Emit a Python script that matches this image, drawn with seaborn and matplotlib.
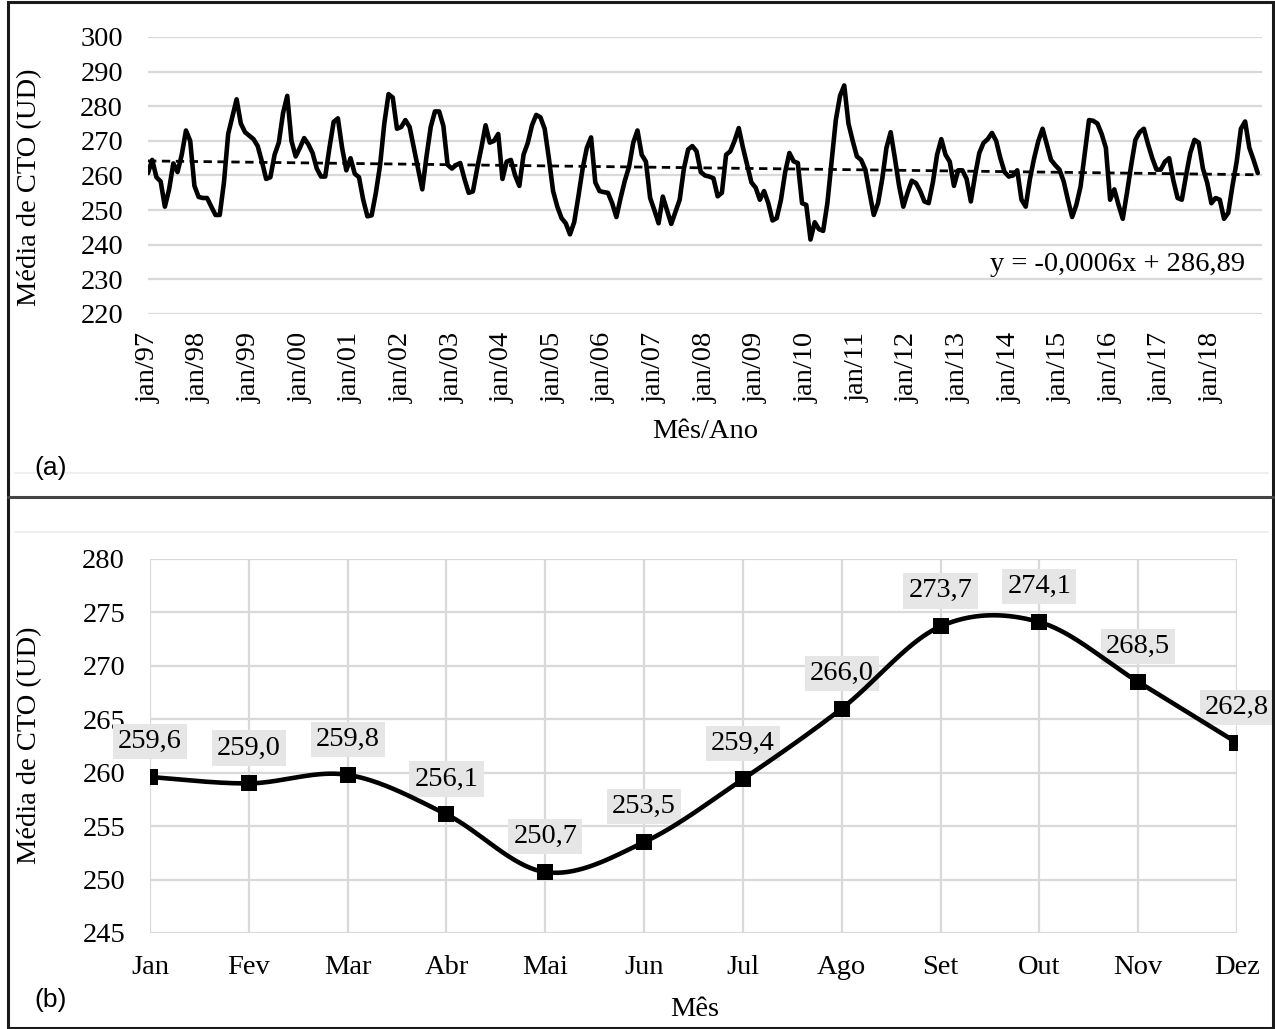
import numpy as np
import pandas as pd
import matplotlib
matplotlib.use("Agg")
import matplotlib.pyplot as plt
import seaborn as sns
from matplotlib.patches import Rectangle
from matplotlib.lines import Line2D

# ---------------- data ----------------
# (a) monthly mean CTO, jan/1997 .. dez/2018
cto_monthly = [
    260.7, 264.5, 259.5, 258.3, 251.0, 256.0, 263.5, 261.0, 266.0, 273.0, 270.0, 257.0,  # 1997
    253.8, 253.5, 253.5, 251.0, 248.6, 248.6, 258.0, 272.0, 277.0, 282.0, 275.0, 272.5,  # 1998
    271.5, 270.5, 268.5, 264.0, 259.0, 259.5, 266.0, 269.5, 278.0, 283.0, 270.0, 265.5,  # 1999
    268.0, 270.8, 269.0, 266.5, 262.0, 259.7, 259.7, 268.0, 275.5, 276.5, 268.0, 261.5,  # 2000
    265.0, 260.5, 259.5, 253.0, 248.2, 248.5, 255.0, 263.0, 275.0, 283.5, 282.5, 273.5,  # 2001
    274.0, 276.0, 274.0, 268.0, 262.0, 256.0, 265.5, 274.0, 278.5, 278.5, 274.3, 263.1,  # 2002
    262.0, 263.0, 263.6, 259.0, 255.0, 255.4, 262.0, 268.0, 274.5, 269.5, 270.0, 272.0,  # 2003
    259.0, 264.0, 264.5, 260.0, 257.0, 266.0, 269.4, 274.5, 277.5, 276.8, 273.5, 265.0,  # 2004
    255.5, 251.0, 247.7, 246.2, 243.0, 246.5, 254.0, 262.0, 268.0, 271.0, 258.0, 255.5,  # 2005
    255.2, 255.0, 252.0, 248.0, 253.5, 258.5, 262.5, 269.5, 273.0, 266.0, 264.0, 253.5,  # 2006
    250.0, 246.2, 253.9, 250.0, 246.0, 249.5, 253.0, 262.0, 267.5, 268.5, 267.0, 261.0,  # 2007
    260.0, 259.7, 259.2, 254.0, 255.0, 266.0, 267.0, 270.0, 273.7, 268.0, 263.0, 258.0,  # 2008
    256.5, 253.0, 255.5, 252.0, 247.0, 247.7, 253.0, 261.0, 266.5, 264.1, 263.6, 252.0,  # 2009
    251.5, 241.5, 246.5, 244.5, 244.0, 252.0, 264.0, 276.0, 283.0, 286.0, 275.0, 270.0,  # 2010
    265.5, 264.5, 261.7, 255.0, 248.6, 252.0, 259.0, 268.0, 272.5, 265.0, 257.0, 251.0,  # 2011
    255.0, 258.5, 257.8, 255.5, 252.5, 252.0, 258.0, 266.0, 270.5, 266.0, 264.0, 257.0,  # 2012
    261.5, 261.5, 259.0, 252.5, 260.0, 266.5, 269.4, 270.5, 272.3, 270.0, 265.0, 261.0,  # 2013
    259.7, 260.0, 261.5, 253.0, 251.0, 259.0, 265.0, 270.0, 273.5, 269.0, 264.5, 263.0,  # 2014
    261.7, 258.3, 253.0, 248.0, 251.5, 256.8, 266.5, 276.0, 275.8, 275.0, 272.0, 268.0,  # 2015
    253.0, 256.0, 251.5, 247.5, 255.0, 263.0, 270.3, 272.5, 273.5, 269.0, 265.0, 261.7,  # 2016
    261.7, 264.0, 265.0, 258.5, 253.5, 253.0, 260.0, 266.5, 270.3, 269.5, 262.0, 258.0,  # 2017
    252.0, 253.5, 253.0, 247.5, 249.2, 257.0, 264.0, 273.5, 275.6, 268.0, 264.5, 260.7,  # 2018
]
year_tick_labels = ["jan/97", "jan/98", "jan/99", "jan/00", "jan/01", "jan/02",
                    "jan/03", "jan/04", "jan/05", "jan/06", "jan/07", "jan/08",
                    "jan/09", "jan/10", "jan/11", "jan/12", "jan/13", "jan/14",
                    "jan/15", "jan/16", "jan/17", "jan/18"]
trend_equation = "y = -0,0006x + 286,89"

# (b) monthly climatology
month_names = ["Jan", "Fev", "Mar", "Abr", "Mai", "Jun",
               "Jul", "Ago", "Set", "Out", "Nov", "Dez"]
month_means = [259.6, 259.0, 259.8, 256.1, 250.7, 253.5,
               259.4, 266.0, 273.7, 274.1, 268.5, 262.8]

# ---------------- style ----------------
sns.set_theme(style="white")
plt.rcParams["font.family"] = ["Liberation Serif", "DejaVu Serif"]
plt.rcParams["text.color"] = "black"
plt.rcParams["xtick.color"] = "black"
plt.rcParams["ytick.color"] = "black"
FS = 20.5
GRID = "#d9d9d9"

W, H = 1275, 1029
fig = plt.figure(figsize=(W / 100, H / 100), dpi=100)
fig.patch.set_facecolor("white")


def ax_px(left, top, right, bottom):
    return fig.add_axes([left / W, 1 - bottom / H, (right - left) / W, (bottom - top) / H])


def style_axes(ax):
    for s in ax.spines.values():
        s.set_visible(False)
    ax.set_facecolor("white")


# ---------------- panel (a) ----------------
ax1 = ax_px(148, 37, 1262, 314)
style_axes(ax1)
df_a = pd.DataFrame({"idx": np.arange(len(cto_monthly)), "cto": cto_monthly})
coef = np.polyfit(df_a["idx"], df_a["cto"], 1)
df_a["trend"] = np.polyval(coef, df_a["idx"])

for v in range(220, 301, 10):
    ax1.axhline(v, color=GRID, lw=1.6, zorder=0)
sns.lineplot(data=df_a, x="idx", y="cto", ax=ax1, color="black", lw=3.3, zorder=3)
sns.lineplot(data=df_a, x="idx", y="trend", ax=ax1, color="black", lw=2.0, zorder=4)
ax1.lines[-1].set_dashes([3.0, 2.0])

ax1.set_xlim(0, 264)
ax1.set_ylim(220, 300)
ax1.set_yticks(np.arange(220, 301, 10))
ax1.set_xticks(np.arange(0, 12 * len(year_tick_labels), 12))
ax1.set_xticklabels(year_tick_labels, rotation=90)
ax1.tick_params(axis="x", length=0, pad=13, labelsize=FS, labelcolor="black")
ax1.tick_params(axis="y", length=0, pad=18, labelsize=FS, labelcolor="black")
ax1.set_xlabel("")
ax1.set_ylabel("")
ax1.text(0.985, 0.18, trend_equation, transform=ax1.transAxes, ha="right",
         va="center", fontsize=FS, color="black")

fig.text(30 / W, 1 - 187 / H, "Média de CTO (UD)", rotation=90, ha="center",
         va="center", fontsize=FS)
fig.text(705 / W, 1 - 432 / H, "Mês/Ano", ha="center", va="center", fontsize=FS)
fig.text(51 / W, 1 - 468 / H, "(a)", ha="center", va="center", fontsize=19,
         family=["Liberation Sans", "DejaVu Sans"])

# ---------------- panel (b) ----------------
ax2 = ax_px(150, 559, 1237, 933)
style_axes(ax2)
xs = np.arange(len(month_means), dtype=float)
ys = np.array(month_means, dtype=float)

# Excel-like smoothed line (Catmull-Rom / Bezier through the points)
P = np.column_stack([xs, ys])
Pext = np.vstack([P[0], P, P[-1]])
curve = []
t = np.linspace(0, 1, 40)[:, None]
for i in range(len(P) - 1):
    p0, p1, p2, p3 = Pext[i], Pext[i + 1], Pext[i + 2], Pext[i + 3]
    b1 = p1 + (p2 - p0) / 6.0
    b2 = p2 - (p3 - p1) / 6.0
    seg = ((1 - t) ** 3) * p1 + 3 * ((1 - t) ** 2) * t * b1 + 3 * (1 - t) * t ** 2 * b2 + t ** 3 * p2
    curve.append(seg if i == 0 else seg[1:])
curve = np.vstack(curve)
df_curve = pd.DataFrame({"x": curve[:, 0], "y": curve[:, 1]})
df_b = pd.DataFrame({"x": xs, "y": ys, "label": month_names})

for v in range(245, 281, 5):
    ax2.axhline(v, color=GRID, lw=1.6, zorder=0)
for xv in xs:
    ax2.axvline(xv, color=GRID, lw=1.6, zorder=0)

sns.lineplot(data=df_curve, x="x", y="y", ax=ax2, color="black", lw=3.3,
             sort=False, estimator=None, zorder=4)
sns.scatterplot(data=df_b, x="x", y="y", ax=ax2, color="black", marker="s",
                s=125, edgecolor="black", linewidth=0, zorder=5)

for xv, yv in zip(xs, ys):
    ax2.annotate(f"{yv:.1f}".replace(".", ","), (xv, yv), xytext=(0, 25.5),
                 textcoords="offset points", ha="center", va="center",
                 fontsize=FS, zorder=3, annotation_clip=False, color="black",
                 bbox=dict(boxstyle="square,pad=0.18", fc="#e6e6e6", ec="none"))

ax2.set_xlim(0, 11)
ax2.set_ylim(245, 280)
ax2.set_yticks(np.arange(245, 281, 5))
ax2.set_xticks(xs)
ax2.set_xticklabels(month_names)
ax2.tick_params(axis="x", length=0, pad=16, labelsize=FS, labelcolor="black")
ax2.tick_params(axis="y", length=0, pad=18, labelsize=FS, labelcolor="black")
ax2.set_xlabel("")
ax2.set_ylabel("")

fig.text(30 / W, 1 - 745 / H, "Média de CTO (UD)", rotation=90, ha="center",
         va="center", fontsize=FS)
fig.text(695 / W, 1 - 1010 / H, "Mês", ha="center", va="center", fontsize=FS)
fig.text(51 / W, 1 - 1000 / H, "(b)", ha="center", va="center", fontsize=19,
         family=["Liberation Sans", "DejaVu Sans"])

# ---------------- frame ----------------
fig.add_artist(Line2D([15 / W, 1268 / W], [1 - 473 / H, 1 - 473 / H], color="#ececec", lw=1.2))
fig.add_artist(Line2D([15 / W, 1268 / W], [1 - 532 / H, 1 - 532 / H], color="#ececec", lw=1.2))
fig.add_artist(Rectangle((8 / W, 1.5 / H), (1273 - 8) / W, (1027 - 1.5) / H,
                         transform=fig.transFigure, fill=False, ec="#1a1a1a", lw=2.2))
fig.add_artist(Line2D([8 / W, 1273 / W], [1 - 497 / H, 1 - 497 / H], color="#444444", lw=2.2))

fig.savefig("out.png", dpi=100, facecolor="white")
